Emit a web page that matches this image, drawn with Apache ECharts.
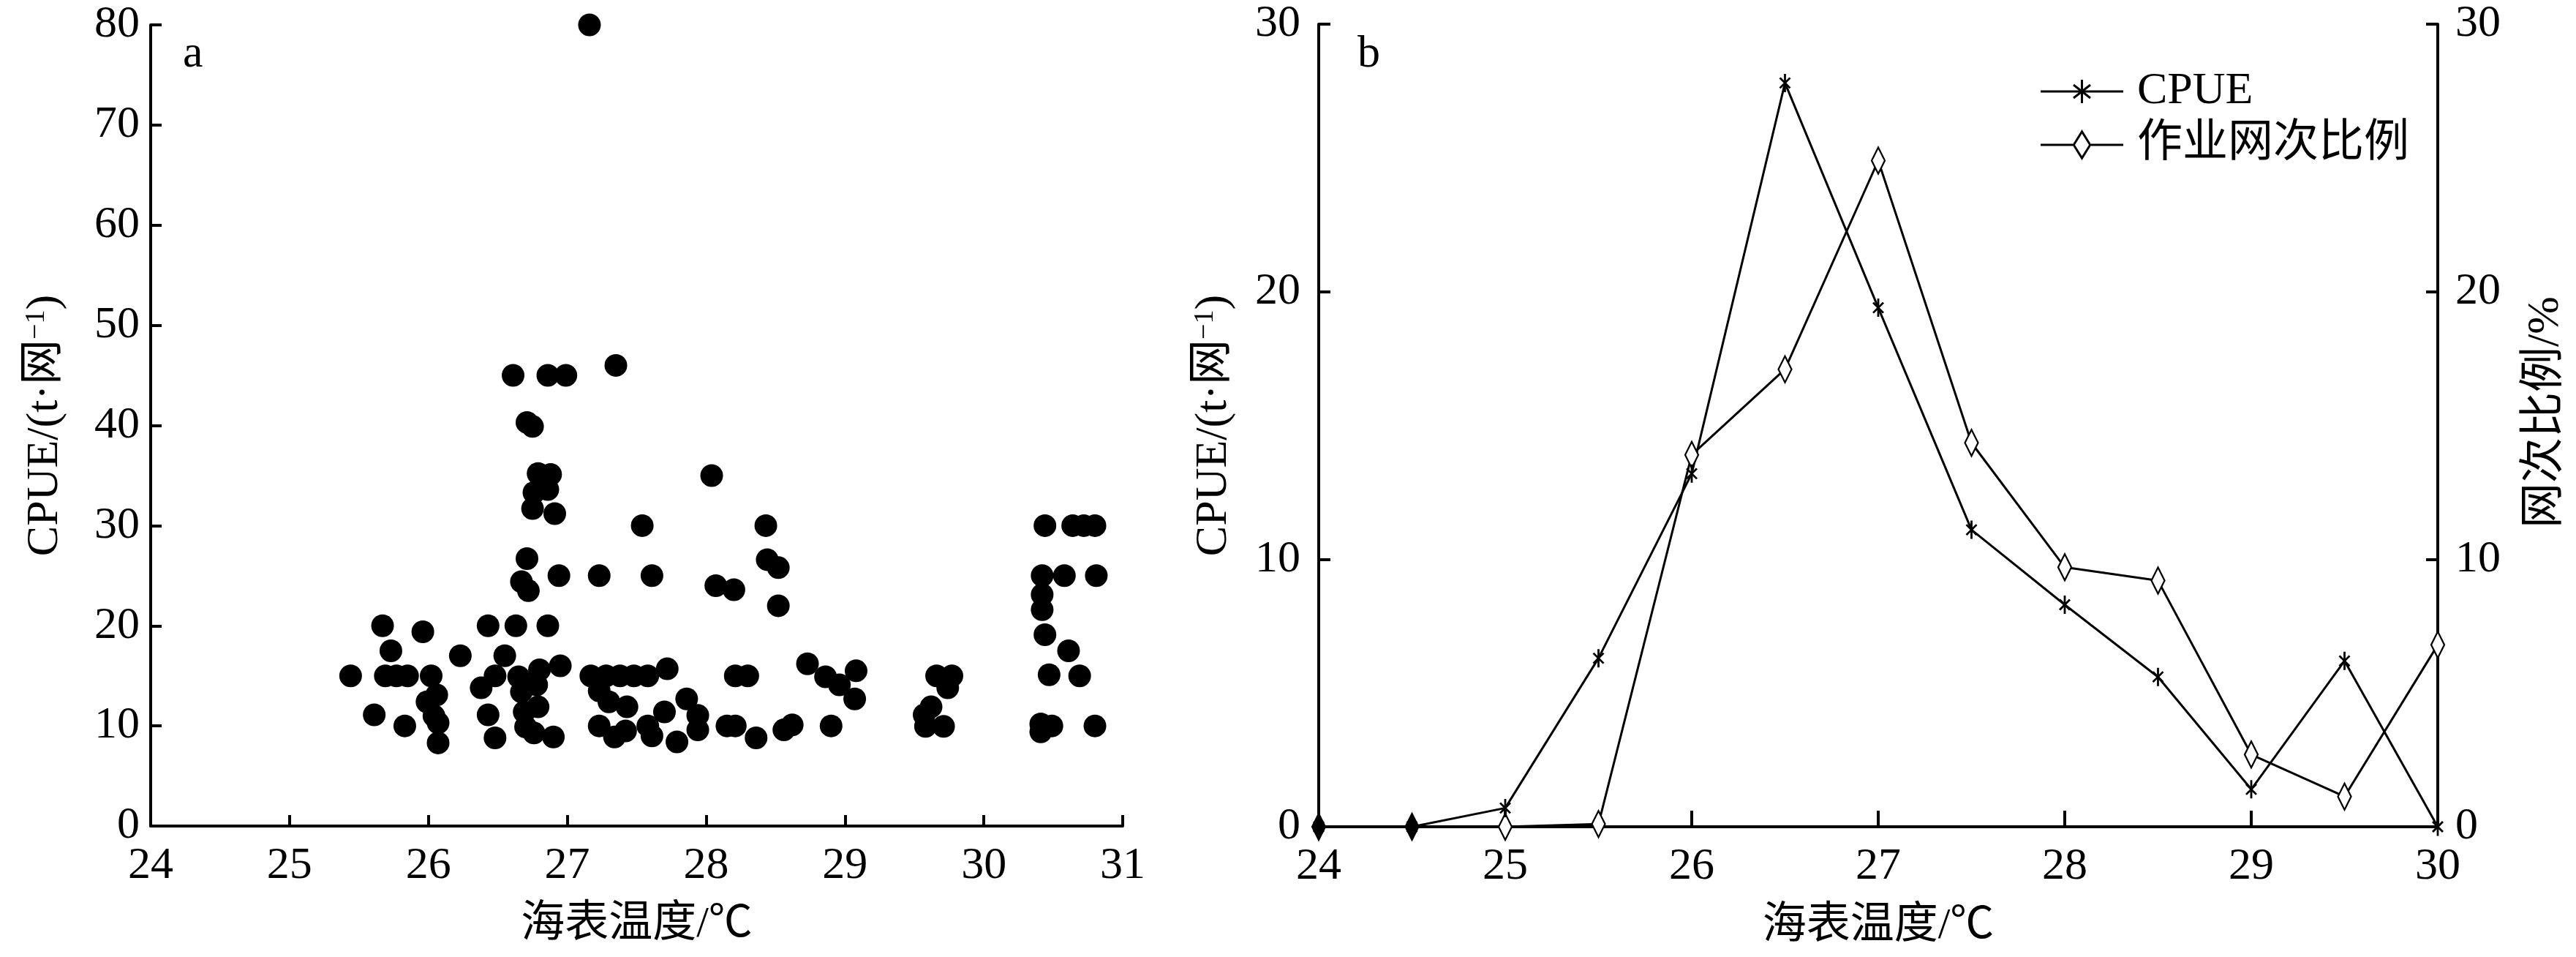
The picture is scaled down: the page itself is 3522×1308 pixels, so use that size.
<!DOCTYPE html>
<html><head><meta charset="utf-8">
<script src="https://cdn.jsdelivr.net/npm/echarts@6/dist/echarts.min.js"></script>
<style>html,body{margin:0;padding:0;background:#fff}#c{width:3522px;height:1308px}</style>
</head><body><div id="c"></div>
<script>
// ---- Panel a: scatter (sea surface temperature vs CPUE) ----
const scatterSST = [
  25.44,25.61,25.67,25.73,25.69,25.77,25.85,25.83,25.96,26.02,26.06,25.99,26.04,26.07,26.07,
  26.23,26.38,26.48,26.43,26.48,26.43,26.55,26.63,26.86,26.65,26.80,26.95,26.67,26.78,26.69,
  26.79,26.70,26.76,26.90,26.61,26.86,26.99,26.71,26.75,26.79,26.88,26.76,26.86,26.75,26.91,
  26.71,26.67,26.72,26.94,27.16,27.35,27.23,27.61,27.54,27.17,27.28,27.38,27.48,27.58,27.72,
  27.23,27.30,27.43,27.23,27.34,27.42,27.58,27.61,27.70,27.79,27.86,27.94,27.94,28.04,28.07,
  28.20,28.21,28.30,28.15,28.21,28.36,28.43,28.44,28.52,28.52,28.56,28.62,28.73,28.86,28.96,
  29.08,29.07,28.90,29.62,29.57,29.58,29.71,29.66,29.77,29.74,30.44,30.64,30.72,30.80,30.42,
  30.58,30.81,30.42,30.42,30.44,30.61,30.47,30.69,30.41,30.41,30.49,30.80
];
const scatterCPUE = [
  15.0,11.1,20.0,17.5,15.0,15.0,15.0,10.0,19.4,15.0,13.1,12.4,11.0,10.3,8.3,
  17.0,13.8,15.0,11.1,8.8,20.0,17.0,20.0,20.0,14.9,15.6,16.0,13.4,14.1,11.4,
  11.9,9.9,9.3,8.9,45.0,45.0,45.0,40.3,39.9,35.2,35.1,33.3,33.6,31.7,31.2,
  26.7,24.4,23.5,25.0,80.0,46.0,25.0,25.0,30.0,15.0,15.0,15.0,15.0,15.0,15.7,
  13.5,12.4,11.9,10.0,8.9,9.5,10.0,9.0,11.4,8.4,12.7,11.05,9.6,35.0,24.0,
  23.6,15.0,15.0,10.0,10.0,8.8,30.0,26.6,25.8,22.0,9.6,10.1,16.2,14.9,14.1,
  15.5,12.7,10.0,11.9,11.1,9.95,9.95,15.0,15.0,13.8,30.0,30.0,30.0,30.0,25.0,
  25.0,25.0,23.1,21.6,19.1,17.5,15.1,15.0,10.2,9.4,10.0,10.0
];

// ---- Panel b: lines ----
const lineSST   = [24, 24.5, 25, 25.5, 26, 26.5, 27, 27.5, 28, 28.5, 29, 29.5, 30];
const lineCPUE  = [0, 0, 0.7, 6.3, 13.2, 27.8, 19.4, 11.1, 8.3, 5.6, 1.4, 6.2, 0];
const lineRatio = [0, 0, 0, 0.1, 13.9, 17.1, 24.9, 14.35, 9.7, 9.2, 2.7, 1.13, 6.8];

const seriesNames = ['CPUE', '作业网次比例'];
const xNameText = '海表温度/℃';
const yNameCPUE = '{a|CPUE/(t·网}{s|−1}{a|)}';
const yNameRatio = '网次比例/%';

// ---- styling helpers ----
const FONT = "'Liberation Serif','Times New Roman','Noto Sans CJK SC',serif";
const BLACK = '#000';
function seg(x1, y1, x2, y2, t) {
  const dx = x2 - x1, dy = y2 - y1, L = Math.hypot(dx, dy);
  const nx = -dy / L * t / 2, ny = dx / L * t / 2;
  const f = v => v.toFixed(2);
  return 'M' + f(x1 + nx) + ' ' + f(y1 + ny) + 'L' + f(x2 + nx) + ' ' + f(y2 + ny) +
         'L' + f(x2 - nx) + ' ' + f(y2 - ny) + 'L' + f(x1 - nx) + ' ' + f(y1 - ny) + 'Z';
}
const asteriskPath = 'path://' + seg(8, 0, 8, 25, 2.6) + seg(1.5, 5.5, 14.5, 19.5, 2.6) + seg(14.5, 5.5, 1.5, 19.5, 2.6);
const legAst = 'path://M0 0M127 42' + seg(0, 21, 113, 21, 3) + seg(56.5, 5, 56.5, 37, 3) +
  seg(45, 12, 68, 30, 3) + seg(68, 12, 45, 30, 3);
function diamondRing(cx, cy, hw, hh, t) {
  const ihw = hw - t * 1.15, ihh = hh - t * 1.9;
  return 'M' + cx + ' ' + (cy - hh) + 'L' + (cx + hw) + ' ' + cy + 'L' + cx + ' ' + (cy + hh) + 'L' + (cx - hw) + ' ' + cy + 'Z' +
         'M' + cx + ' ' + (cy - ihh) + 'L' + (cx - ihw) + ' ' + cy + 'L' + cx + ' ' + (cy + ihh) + 'L' + (cx + ihw) + ' ' + cy + 'Z';
}
const legDia = 'path://M0 0M127 42' +
  'M0 19.5L44 19.5L44 22.5L0 22.5Z' + 'M69 19.5L113 19.5L113 22.5L69 22.5Z' +
  diamondRing(56.5, 21, 13, 21, 3);

const txt = (size) => ({ color: BLACK, fontFamily: FONT, fontSize: size });
const axisLine = { show: true, onZero: false, lineStyle: { color: BLACK, width: 4 } };
const tick = (len) => ({ show: true, inside: true, length: len, lineStyle: { color: BLACK, width: 4 } });

// where both markers coincide the printed diamond reads as solid
const ratioData = lineSST.map((t, i) => {
  const item = { value: [t, lineRatio[i]] };
  if (lineRatio[i] === lineCPUE[i]) item.itemStyle = { color: BLACK };
  return item;
});

const chart = echarts.init(document.getElementById('c'), null, { renderer: 'canvas' });
chart.setOption({
  animation: false,
  backgroundColor: '#fff',
  grid: [
    { left: 206, top: 34, width: 1329, height: 1095 },
    { left: 1803, top: 33, width: 1530, height: 1097 }
  ],
  xAxis: [
    { gridIndex: 0, type: 'value', min: 24, max: 31, interval: 1,
      axisLine, axisTick: tick(15), splitLine: { show: false },
      axisLabel: Object.assign({ margin: 24 }, txt(62)),
      name: xNameText, nameLocation: 'middle', nameGap: 105, nameTextStyle: txt(60) },
    { gridIndex: 1, type: 'value', min: 24, max: 30, interval: 1,
      axisLine, axisTick: tick(22), splitLine: { show: false },
      axisLabel: Object.assign({ margin: 24 }, txt(62)),
      name: xNameText, nameLocation: 'middle', nameGap: 106, nameTextStyle: txt(60) }
  ],
  yAxis: [
    { gridIndex: 0, type: 'value', min: 0, max: 80, interval: 10,
      axisLine, axisTick: tick(15), splitLine: { show: false },
      axisLabel: Object.assign({ margin: 15 }, txt(62)),
      name: yNameCPUE, nameLocation: 'middle', nameGap: 113, nameRotate: 90,
      nameTextStyle: { rich: { a: txt(62), s: Object.assign(txt(38), { verticalAlign: 'top' }) } } },
    { gridIndex: 1, type: 'value', min: 0, max: 30, interval: 10, position: 'left',
      axisLine, axisTick: tick(16), splitLine: { show: false },
      axisLabel: Object.assign({ margin: 25 }, txt(62)),
      name: yNameCPUE, nameLocation: 'middle', nameGap: 112, nameRotate: 90,
      nameTextStyle: { rich: { a: txt(62), s: Object.assign(txt(38), { verticalAlign: 'top' }) } } },
    { gridIndex: 1, type: 'value', min: 0, max: 30, interval: 10, position: 'right',
      axisLine, axisTick: tick(16), splitLine: { show: false },
      axisLabel: Object.assign({ margin: 24 }, txt(62)),
      name: yNameRatio, nameLocation: 'middle', nameGap: 117, nameRotate: 90,
      nameTextStyle: Object.assign({ padding: [0, 0, 0, 36] }, txt(62)) }
  ],
  legend: {
    orient: 'vertical', left: 2785, top: 89, itemWidth: 127, itemHeight: 42, itemGap: 11,
    selectedMode: false, textStyle: txt(62),
    data: [
      { name: seriesNames[0], icon: legAst, itemStyle: { color: BLACK, borderWidth: 0 } },
      { name: seriesNames[1], icon: legDia, itemStyle: { color: BLACK, borderWidth: 0 } }
    ]
  },
  graphic: [
    { type: 'text', left: 250, top: 44, style: { text: 'a', font: '62px ' + FONT, fill: BLACK } },
    { type: 'text', left: 1856, top: 44, style: { text: 'b', font: '62px ' + FONT, fill: BLACK } }
  ],
  series: [
    { type: 'scatter', xAxisIndex: 0, yAxisIndex: 0, symbol: 'circle', symbolSize: 31,
      itemStyle: { color: BLACK, opacity: 1 },
      data: scatterSST.map((t, i) => [t, scatterCPUE[i]]) },
    { type: 'line', name: seriesNames[1], xAxisIndex: 1, yAxisIndex: 2,
      symbol: 'diamond', symbolSize: [18, 36], showAllSymbol: true,
      lineStyle: { color: BLACK, width: 3 },
      itemStyle: { color: '#fff', borderColor: BLACK, borderWidth: 2.5 },
      data: ratioData },
    { type: 'line', name: seriesNames[0], xAxisIndex: 1, yAxisIndex: 1,
      symbol: asteriskPath, symbolSize: [16, 25], showAllSymbol: true,
      lineStyle: { color: BLACK, width: 3 },
      itemStyle: { color: BLACK, borderWidth: 0 },
      data: lineSST.map((t, i) => [t, lineCPUE[i]]) }
  ]
});
</script>
</body></html>
